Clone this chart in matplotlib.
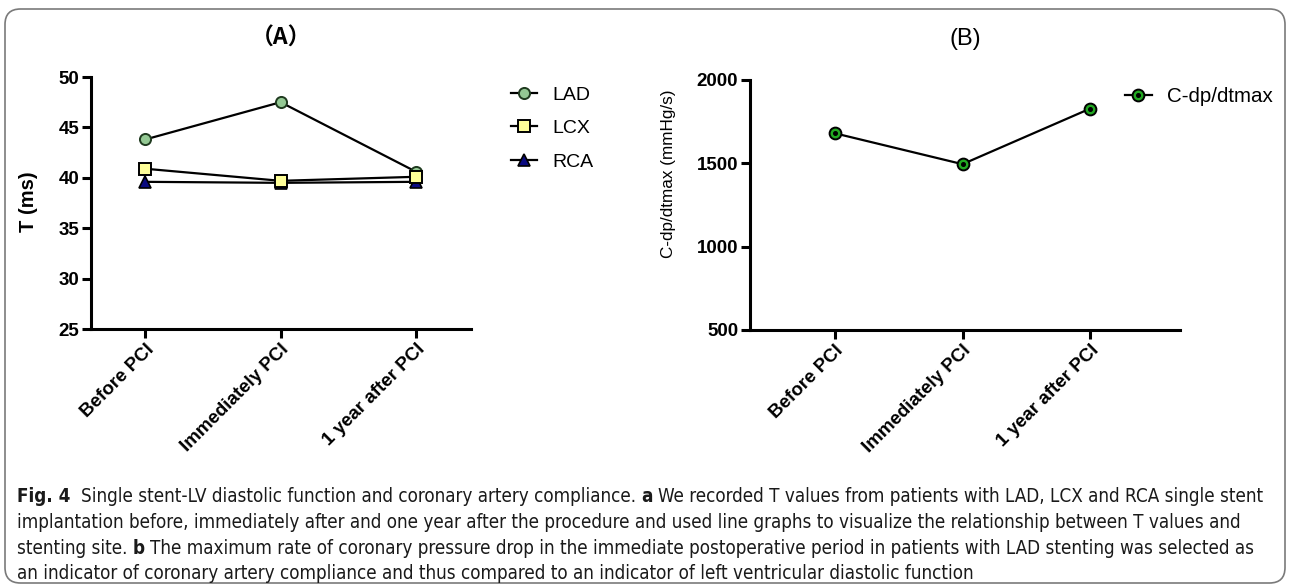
import matplotlib
matplotlib.use("Agg")
import matplotlib.pyplot as plt
from matplotlib import font_manager
from matplotlib.patches import FancyBboxPatch
from matplotlib.legend_handler import HandlerTuple

# ---------------- data ----------------
categories = ["Before PCI", "Immediately PCI", "1 year after PCI"]
lad = [43.8, 47.5, 40.6]
lcx = [40.9, 39.7, 40.1]
rca = [39.6, 39.5, 39.6]
cdp = [1680, 1495, 1828]
yticks_a = [25, 30, 35, 40, 45, 50]
yticks_b = [500, 1000, 1500, 2000]

W, H = 1290, 586
DPI = 100
plt.rcParams["font.family"] = ["Liberation Sans", "DejaVu Sans"]

fig = plt.figure(figsize=(W / DPI, H / DPI), dpi=DPI)

def px_axes(x0, x1, ytop, ybot):
    return fig.add_axes([x0 / W, 1 - ybot / H, (x1 - x0) / W, (ybot - ytop) / H])

SPW = 2.2
def style(ax):
    for s in ["top", "right"]:
        ax.spines[s].set_visible(False)
    for s in ["left", "bottom"]:
        ax.spines[s].set_linewidth(SPW)
        ax.spines[s].set_capstyle("projecting")
    ax.tick_params(axis="both", length=6.5, width=SPW, labelsize=13.5, pad=2)

# ---------------- panel A ----------------
axA = px_axes(91, 471, 77, 329)
x = list(range(len(categories)))
axA.plot(x, lad, "-o", color="black", lw=1.6, ms=8, mfc="#94c994", mec="#1f3a1f", mew=1.4, label="LAD", zorder=3)
axA.plot(x, lcx, "-s", color="black", lw=1.6, ms=8, mfc="#ffff99", mec="black", mew=1.4, label="LCX", zorder=4)
axA.plot(x, rca, "-^", color="black", lw=1.6, ms=8, mfc="#0a0a80", mec="black", mew=1.2, label="RCA", zorder=2)
axA.set_xlim(-0.4, 2.406)
axA.set_ylim(25, 50)
axA.set_yticks(yticks_a)
axA.set_xticks(x)
axA.set_xticklabels(categories, rotation=45, ha="right", rotation_mode="anchor",
                    fontweight="bold", fontsize=13.5)
style(axA)
axA.set_yticklabels([str(v) for v in yticks_a], fontweight="bold", fontsize=13.5)
axA.set_ylabel("T (ms)", fontweight="bold", fontsize=14.5, va="center")
axA.yaxis.set_label_coords((28 - 91) / 380, (329 - 202) / 252)
axA.text(0.5, (329 - 38) / 252, "（A）", transform=axA.transAxes, ha="center", va="center",
         fontsize=16.5, fontweight="bold", family=["Noto Sans CJK SC", "DejaVu Sans"])
legA = axA.legend(loc="upper left", bbox_to_anchor=(511 / W, 1 - 86 / H), bbox_transform=fig.transFigure,
                  frameon=False, fontsize=14, handlelength=1.35, handletextpad=0.8,
                  labelspacing=0.82, borderpad=0, borderaxespad=0)

# ---------------- panel B ----------------
axB = px_axes(750, 1180, 80, 330)
lB, = axB.plot(x, cdp, "-o", color="black", lw=1.6, ms=8.5, mfc="#22a822", mec="black", mew=1.4, zorder=3)
dB, = axB.plot(x, cdp, "o", ls="none", ms=2.6, mfc="black", mec="black", zorder=4)
axB.set_xlim(-0.667, 2.706)
axB.set_ylim(500, 2000)
axB.set_yticks(yticks_b)
axB.set_xticks(x)
axB.set_xticklabels(categories, rotation=45, ha="right", rotation_mode="anchor",
                    fontweight="bold", fontsize=13.5)
style(axB)
axB.set_yticklabels([str(v) for v in yticks_b], fontweight="bold", fontsize=13.5)
axB.set_ylabel("C-dp/dtmax (mmHg/s)", fontsize=12.3, va="center")
axB.yaxis.set_label_coords((668 - 750) / 430, (330 - 174) / 250)
axB.text(0.5, (330 - 39) / 250, "(B)", transform=axB.transAxes, ha="center", va="center",
         fontsize=17)
legB = axB.legend([(lB, dB)], ["C-dp/dtmax"], handler_map={tuple: HandlerTuple(ndivide=1, pad=0)},
                  loc="upper left", bbox_to_anchor=(1125 / W, 1 - 87 / H), bbox_transform=fig.transFigure,
                  frameon=False, fontsize=14.8, handlelength=1.3, handletextpad=0.75,
                  borderpad=0, borderaxespad=0)

# ---------------- border ----------------
box = FancyBboxPatch((5 / W, 1 - 583 / H), (1285 - 5) / W, (583 - 9) / H,
                     boxstyle="round,pad=0,rounding_size=0.012", transform=fig.transFigure,
                     fill=False, ec="#7a7a7a", lw=1.2, mutation_aspect=W / H)
fig.patches.append(box)

# ---------------- caption ----------------
names = {f.name for f in font_manager.fontManager.ttflist}
if "Liberation Sans Narrow" in names:
    cap_family = "Liberation Sans Narrow"
    cap_stretch = "normal"
else:
    cap_family = "DejaVu Sans"
    cap_stretch = "condensed"

lines = [
    [("Fig. 4", True), ("  ", False), ("Single stent-LV diastolic function and coronary artery compliance.", False),
     (" ", False), ("a", True), (" ", False),
     ("We recorded T values from patients with LAD, LCX and RCA single stent", False)],
    [("implantation before, immediately after and one year after the procedure and used line graphs to visualize the relationship between T values and", False)],
    [("stenting site.", False), (" ", False), ("b", True), (" ", False),
     ("The maximum rate of coronary pressure drop in the immediate postoperative period in patients with LAD stenting was selected as", False)],
    [("an indicator of coronary artery compliance and thus compared to an indicator of left ventricular diastolic function", False)],
]
baselines = [502, 528, 554, 579]
X0 = 17

renderer = fig.canvas.get_renderer()

def width_of(txt, bold, fs):
    if txt.strip() == "":
        t1 = fig.text(0, 0, "a" + txt + "a", fontsize=fs, family=cap_family, stretch=cap_stretch)
        t2 = fig.text(0, 0, "aa", fontsize=fs, family=cap_family, stretch=cap_stretch)
        w = t1.get_window_extent(renderer).width - t2.get_window_extent(renderer).width
        t1.remove(); t2.remove()
        return w
    t = fig.text(0, 0, txt, fontsize=fs, family=cap_family, stretch=cap_stretch,
                 fontweight="bold" if bold else "normal")
    w = t.get_window_extent(renderer).width
    t.remove()
    return w

base_fs = 12.0
w1 = sum(width_of(t, b, base_fs) for t, b in lines[0])
fs = base_fs * (1262 - X0) / w1
fs = max(8.0, min(fs, 13.5))

for segs, yb in zip(lines, baselines):
    xc = X0
    for txt, bold in segs:
        w = width_of(txt, bold, fs)
        if txt.strip() != "":
            fig.text(xc / W, 1 - yb / H, txt, fontsize=fs, family=cap_family, stretch=cap_stretch,
                     fontweight="bold" if bold else "normal", ha="left", va="baseline", color="#1a1a1a")
        xc += w

fig.savefig("out.png", dpi=DPI)
